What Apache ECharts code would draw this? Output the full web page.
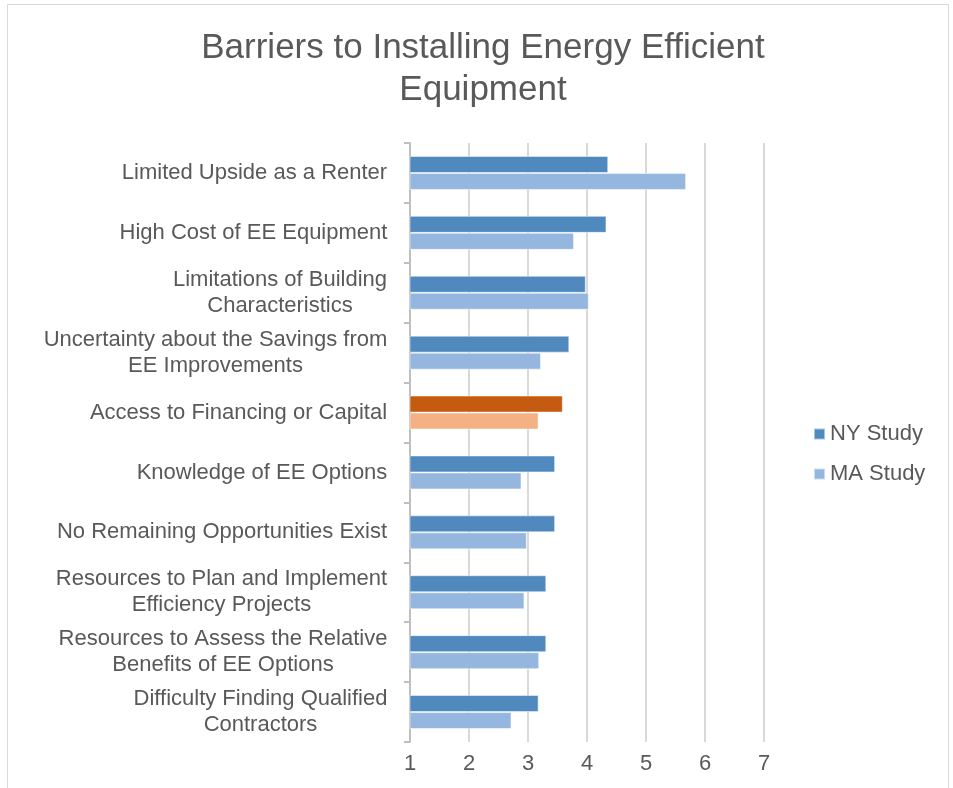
<!DOCTYPE html>
<html><head><meta charset="utf-8">
<script src="https://cdn.jsdelivr.net/npm/echarts@6/dist/echarts.min.js"></script>
<style>html,body{margin:0;padding:0;background:#fff}#c{width:953px;height:788px}</style>
</head><body><div id="c"></div>
<script>
const categories = [
  "Limited Upside as a Renter",
  "High Cost of EE Equipment",
  "Limitations of Building\nCharacteristics",
  "Uncertainty about the Savings from\nEE Improvements",
  "Access to Financing or Capital",
  "Knowledge of EE Options",
  "No Remaining Opportunities Exist",
  "Resources to Plan and Implement\nEfficiency Projects",
  "Resources to Assess the Relative\nBenefits of EE Options",
  "Difficulty Finding Qualified\nContractors"
];
const nyStudy = [4.36, 4.33, 3.98, 3.70, 3.59, 3.46, 3.46, 3.31, 3.31, 3.18];
const maStudy = [5.68, 3.78, 4.03, 3.22, 3.18, 2.89, 2.98, 2.94, 3.19, 2.72];
const seriesNames = ["NY Study", "MA Study"];
const highlightIndex = 4;
const xTicks = [1, 2, 3, 4, 5, 6, 7];

const FONT = "'Liberation Sans', Arial, sans-serif";
const LABEL_SIZE = 22;
const NY_COLOR = '#4F89BD', MA_COLOR = '#95B7DF';
const NY_HI = '#C55A11', MA_HI = '#F4B183';

function mk(vals, hi) {
  return vals.map((v, i) => i === highlightIndex ? {value: v, itemStyle: {color: hi}} : v);
}

// per-label rich styles so multi-line labels are centred within a right-aligned block
const ctx = document.createElement('canvas').getContext('2d');
ctx.font = LABEL_SIZE + 'px ' + FONT;
const rich = {};
categories.forEach((c, i) => {
  const w = Math.max(...c.split('\n').map(s => ctx.measureText(s).width));
  rich['c' + i] = {width: Math.ceil(w) + 1, align: 'center', fontFamily: FONT, fontSize: LABEL_SIZE,
    color: '#595959', lineHeight: 26};
});

const chart = echarts.init(document.getElementById('c'), null, {renderer: 'canvas'});
chart.setOption({
  animation: false,
  backgroundColor: '#fff',
  graphic: [{type: 'rect', shape: {x: 7.5, y: 4.5, width: 941, height: 790},
    style: {fill: 'none', stroke: '#D9D9D9', lineWidth: 1}}],
  title: {
    text: 'Barriers to Installing Energy Efficient\nEquipment',
    left: 478, top: 22, textAlign: 'center',
    textStyle: {fontFamily: FONT, fontSize: 35, fontWeight: 'normal', color: '#595959', lineHeight: 42}
  },
  legend: {
    orient: 'vertical', left: 808, top: 418, itemWidth: 11, itemHeight: 11, itemGap: 18,
    icon: 'rect',
    textStyle: {fontFamily: FONT, fontSize: 22, color: '#595959'},
    data: seriesNames
  },
  grid: {left: 410, right: 189, top: 143, bottom: 46, containLabel: false},
  xAxis: {
    type: 'value', min: xTicks[0], max: xTicks[xTicks.length - 1], interval: 1,
    axisLine: {show: false}, axisTick: {show: false},
    axisLabel: {fontFamily: FONT, fontSize: 22, color: '#595959', margin: 11},
    splitLine: {lineStyle: {color: '#D9D9D9', width: 2}}
  },
  yAxis: {
    type: 'category', inverse: true, data: categories,
    axisLine: {lineStyle: {color: '#BFBFBF', width: 2}},
    axisTick: {show: true, length: 6, lineStyle: {color: '#BFBFBF', width: 2}},
    axisLabel: {
      fontFamily: FONT, fontSize: LABEL_SIZE, color: '#595959', margin: 22, lineHeight: 26, align: 'right',
      rich: rich,
      formatter: (v, i) => v.split('\n').map(s => '{c' + i + '|' + s + '}').join('\n')
    }
  },
  series: [
    {name: seriesNames[0], type: 'bar', data: mk(nyStudy, NY_HI), barWidth: 17, barGap: '0%',
     itemStyle: {color: NY_COLOR, borderColor: 'rgba(255,255,255,0.5)', borderWidth: 1}},
    {name: seriesNames[1], type: 'bar', data: mk(maStudy, MA_HI), barWidth: 17, barGap: '0%',
     itemStyle: {color: MA_COLOR, borderColor: 'rgba(255,255,255,0.5)', borderWidth: 1}}
  ]
});
</script></body></html>
